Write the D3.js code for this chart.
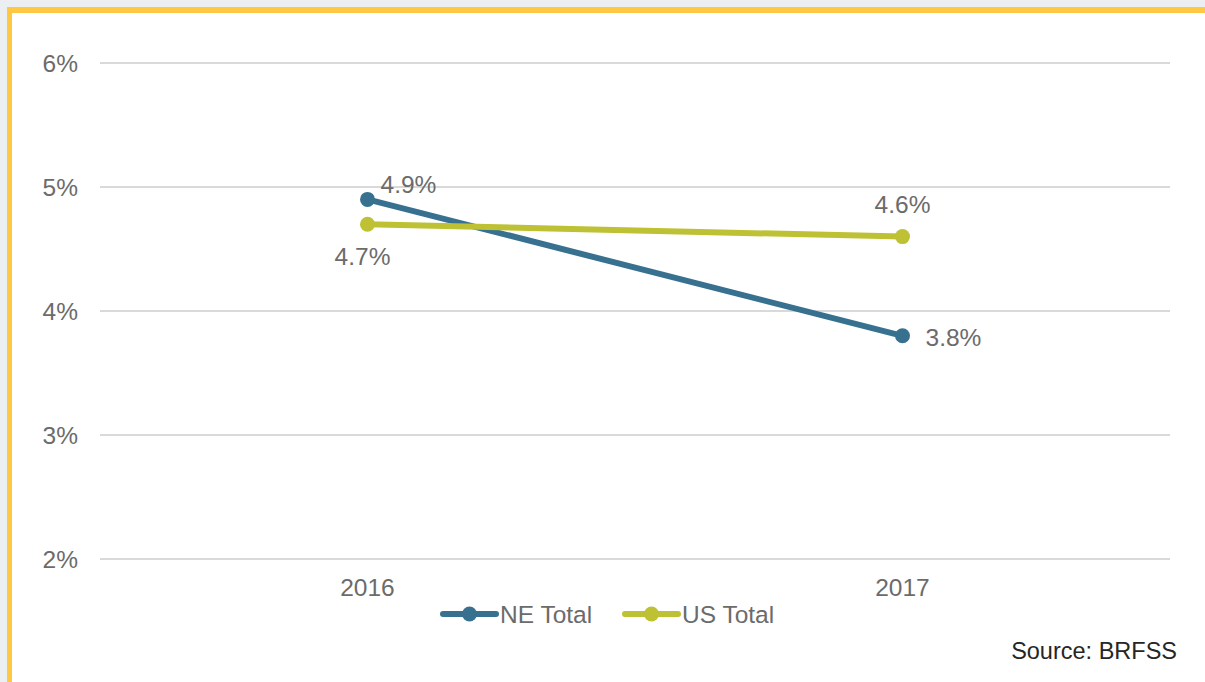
<!DOCTYPE html>
<html>
<head>
<meta charset="utf-8">
<script src="https://cdn.jsdelivr.net/npm/d3@7"></script>
<style>
  html, body { margin: 0; padding: 0; background: #eceff2; }
  svg { display: block; }
  text { font-family: "Liberation Sans", Arial, sans-serif; }
</style>
</head>
<body>
<svg id="chart" width="1205" height="682"></svg>
<script>
// chart data
const years = ["2016", "2017"];
const neTotal = [4.9, 3.8];
const usTotal = [4.7, 4.6];
const seriesNames = ["NE Total", "US Total"];
const yTicks = [2, 3, 4, 5, 6];

const W = 1205, H = 682;
const fs = 24.5;
const textColor = "#6b6b6b";
const svg = d3.select("#chart");

// frame: yellow border on top and left, white panel
svg.append("rect")
  .attr("x", 7).attr("y", 7)
  .attr("width", W - 7).attr("height", H - 7)
  .attr("fill", "#ffc843");
svg.append("rect")
  .attr("x", 12).attr("y", 13)
  .attr("width", W - 12).attr("height", H - 13)
  .attr("fill", "#ffffff");

const x = d3.scaleBand().domain(years).range([100, 1170]);
const y = d3.scaleLinear().domain([2, 6]).range([559, 63]);

// gridlines
svg.append("g")
  .selectAll("line")
  .data(yTicks)
  .join("line")
  .attr("x1", 100).attr("x2", 1170)
  .attr("y1", d => y(d)).attr("y2", d => y(d))
  .attr("stroke", "#d9d9d9")
  .attr("stroke-width", 2);

// y axis labels
svg.append("g")
  .selectAll("text")
  .data(yTicks)
  .join("text")
  .attr("x", 78)
  .attr("y", d => y(d))
  .attr("dy", "0.36em")
  .attr("text-anchor", "end")
  .attr("font-size", fs)
  .attr("fill", textColor)
  .text(d => d + "%");

// x axis labels
svg.append("g")
  .selectAll("text")
  .data(years)
  .join("text")
  .attr("x", d => x(d) + x.bandwidth() / 2)
  .attr("y", 587)
  .attr("dy", "0.36em")
  .attr("text-anchor", "middle")
  .attr("font-size", fs)
  .attr("fill", textColor)
  .text(d => d);

const cx = d => x(d) + x.bandwidth() / 2;

const series = [
  { name: seriesNames[0], values: neTotal, color: "#37718f" },
  { name: seriesNames[1], values: usTotal, color: "#bdc133" }
];

const line = d3.line()
  .x((d, i) => cx(years[i]))
  .y(d => y(d));

series.forEach(s => {
  const g = svg.append("g");
  g.append("path")
    .datum(s.values)
    .attr("d", line)
    .attr("fill", "none")
    .attr("stroke", s.color)
    .attr("stroke-width", 6)
    .attr("stroke-linecap", "round");
  g.selectAll("circle")
    .data(s.values)
    .join("circle")
    .attr("cx", (d, i) => cx(years[i]))
    .attr("cy", d => y(d))
    .attr("r", 7.5)
    .attr("fill", s.color);
});

// data labels: [series index, point index, dx, dy, anchor]
const labelPos = [
  [0, 0, 13, -15, "start"],
  [0, 1, 23, 1, "start"],
  [1, 0, -5, 32, "middle"],
  [1, 1, 0, -32, "middle"]
];
svg.append("g")
  .selectAll("text")
  .data(labelPos)
  .join("text")
  .attr("x", d => cx(years[d[1]]) + d[2])
  .attr("y", d => y(series[d[0]].values[d[1]]) + d[3])
  .attr("dy", "0.36em")
  .attr("text-anchor", d => d[4])
  .attr("font-size", fs)
  .attr("fill", textColor)
  .text(d => series[d[0]].values[d[1]].toFixed(1) + "%");

// legend
const legendItems = [
  { x: 443, s: series[0] },
  { x: 625, s: series[1] }
];
const lg = svg.append("g")
  .selectAll("g")
  .data(legendItems)
  .join("g")
  .attr("transform", d => `translate(${d.x},614)`);
lg.append("line")
  .attr("x1", 0).attr("x2", 53)
  .attr("stroke", d => d.s.color)
  .attr("stroke-width", 6)
  .attr("stroke-linecap", "round");
lg.append("circle")
  .attr("cx", 26.5)
  .attr("r", 7.5)
  .attr("fill", d => d.s.color);
lg.append("text")
  .attr("x", 57)
  .attr("dy", "0.36em")
  .attr("font-size", fs)
  .attr("fill", textColor)
  .text(d => d.s.name);

// source note
svg.append("text")
  .attr("x", 1177)
  .attr("y", 651)
  .attr("dy", "0.36em")
  .attr("text-anchor", "end")
  .attr("font-size", 23.5)
  .attr("fill", "#262626")
  .text("Source: BRFSS");
</script>
</body>
</html>
